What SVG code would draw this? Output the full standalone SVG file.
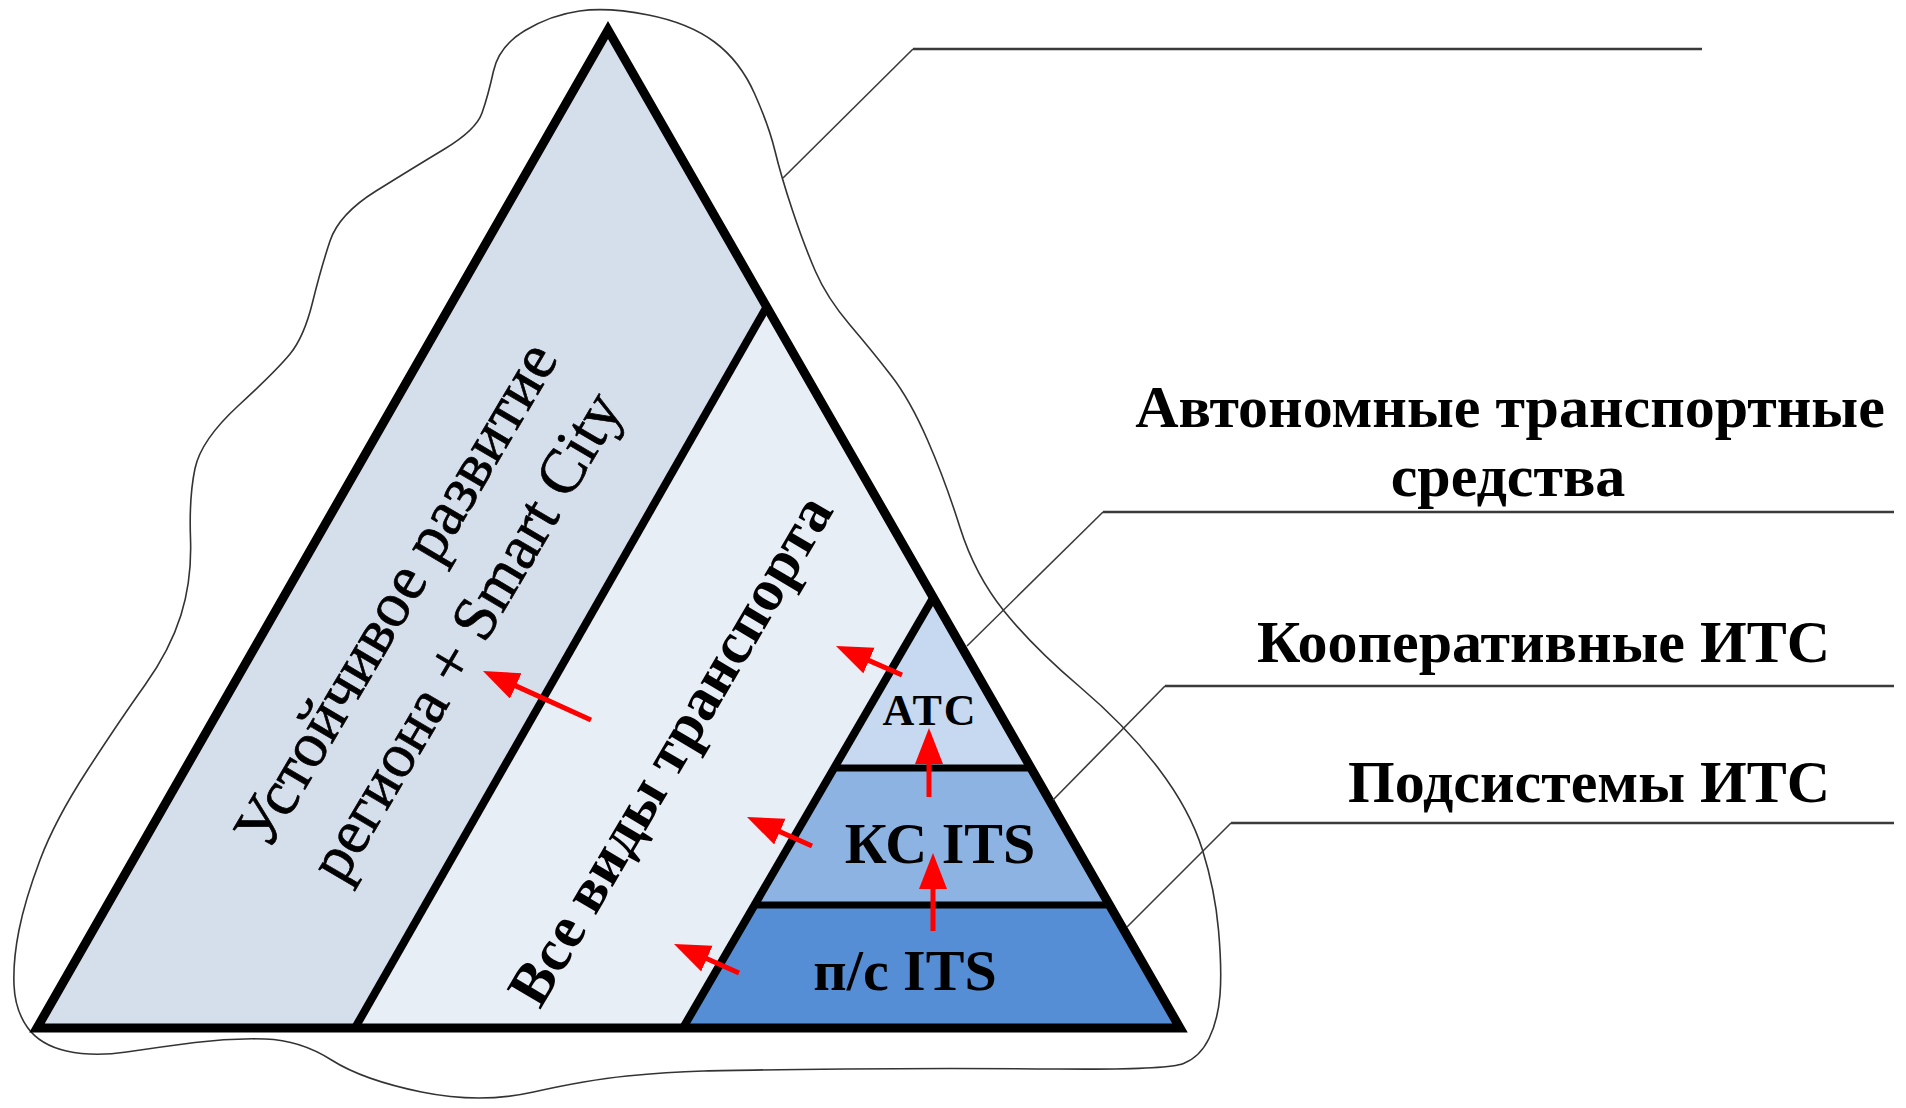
<svg xmlns="http://www.w3.org/2000/svg" width="1906" height="1108" viewBox="0 0 1906 1108">
<style>
.edge{fill:none;stroke:#000;stroke-width:9;stroke-linejoin:miter;stroke-linecap:square}
.div{fill:none;stroke:#000;stroke-width:8;stroke-linecap:butt}
.hline{fill:none;stroke:#000;stroke-width:7}
.leader{fill:none;stroke:#3a3a3a;stroke-width:1.6}
.leaderh{fill:none;stroke:#3a3a3a;stroke-width:2.4}
.cloud{fill:#fff;stroke:#333;stroke-width:1.6}
.arrow{fill:none;stroke:#ff0000;stroke-width:5;marker-end:url(#ah)}
.lbl{font-family:"Liberation Serif","Times New Roman",serif;font-weight:bold;fill:#000}
.rot{font-family:"Liberation Serif","Times New Roman",serif;fill:#000;stroke:#000;stroke-width:0.7}
</style>
<defs>
<marker id="ah" markerUnits="userSpaceOnUse" markerWidth="40" markerHeight="30" refX="6" refY="14" orient="auto" viewBox="0 0 40 30">
<path d="M0,0 L36,14 L0,28 Z" fill="#ff0000"/>
</marker>
</defs>
<rect width="1906" height="1108" fill="#fff"/>
<g id="cloud">
<path class="cloud" d="M579.5,11 Q608,7 648.5,15 Q689,23 714.5,42 Q740,61 754.5,93.5 Q769,126 775,151 Q781,176 792.5,210.5 Q804,245 815.5,271.5 Q827,298 850,325 Q873,352 891.5,376 Q910,400 927.5,440 Q945,480 960,527.5 Q975,575 1004,611 Q1033,647 1080,687 Q1127,727 1158.5,768.5 Q1190,810 1202.5,850 Q1215,890 1218.5,930 Q1222,970 1220,995 Q1218,1020 1209,1038.5 Q1200,1057 1183.5,1063.5 Q1167,1070 1058.5,1069 Q950,1068 845,1069 Q740,1070 703.5,1071 Q667,1072 627,1076 Q587,1080 533.5,1092 Q480,1104 421.5,1092 Q363,1080 331.5,1060 Q300,1040 265,1039 Q230,1038 195,1042.5 Q160,1047 126.5,1052 Q93,1057 66.5,1051 Q40,1045 27.5,1027.5 Q15,1010 14,985 Q13,960 19,930 Q25,900 40,860 Q55,820 87.5,770 Q120,720 145,685 Q170,650 181,615 Q192,580 190.5,538.5 Q189,497 195,468.5 Q201,440 238.5,405.5 Q276,371 290,354 Q304,337 312.5,302.5 Q321,268 330,241 Q339,214 376,191 Q413,168 444.5,149 Q476,130 482,113 Q488,96 493.5,71 Q499,46 525,30.5 Q551,15 579.5,11 Z"/>
</g>
<g id="band-region">
<polygon points="608,30 766.6,307 355,1028 37,1028" fill="#d5dfeb"/>
</g>
<g id="band-transport">
<polygon points="766.6,307 933,598 683,1028 355,1028" fill="#e8eef6"/>
</g>
<g id="level-atc">
<polygon points="933,598 1030.6,768 834,768" fill="#c6d9f0"/>
</g>
<g id="level-kc">
<polygon points="834,768 1030.6,768 1109,905 754.5,905" fill="#8db3e2"/>
</g>
<g id="level-ps">
<polygon points="754.5,905 1109,905 1180,1028 683,1028" fill="#558ed5"/>
</g>
<g id="lines">
<line class="div" x1="766.6" y1="307" x2="355" y2="1028"/>
<line class="div" x1="933" y1="598" x2="683" y2="1028"/>
<line class="hline" x1="834" y1="768" x2="1030.6" y2="768"/>
<line class="hline" x1="754.5" y1="905" x2="1109" y2="905"/>
<polygon class="edge" points="608,30 1180,1028 37,1028"/>
</g>
<g id="connectors">
<polyline class="leader" points="783,178 913,49"/>
<line class="leaderh" x1="913" y1="49" x2="1702" y2="49"/>
<polyline class="leader" points="967,646 1103,512"/>
<line class="leaderh" x1="1103" y1="512" x2="1894" y2="512"/>
<polyline class="leader" points="1053,800 1165,686"/>
<line class="leaderh" x1="1165" y1="686" x2="1894" y2="686"/>
<polyline class="leader" points="1127,927 1231,823"/>
<line class="leaderh" x1="1231" y1="823" x2="1894" y2="823"/>
<line class="arrow" x1="591" y1="720" x2="510.3" y2="683.4"/>
<line class="arrow" x1="902" y1="675" x2="863.5" y2="658.1"/>
<line class="arrow" x1="812" y1="846" x2="774.4" y2="829.2"/>
<line class="arrow" x1="739" y1="973" x2="701.4" y2="956.2"/>
<line class="arrow" x1="929" y1="797" x2="929" y2="758"/>
<line class="arrow" x1="933" y1="931" x2="933" y2="883"/>
</g>
<g id="text-region">
<g transform="translate(430,615) rotate(-59.5)">
<text class="rot" x="0" y="-19" font-size="64" text-anchor="middle">Устойчивое развитие</text>
<text class="rot" x="0" y="62" font-size="63" text-anchor="middle">региона + Smart City</text>
</g>
</g>
<g id="text-transport">
<text class="lbl" transform="translate(670,750) rotate(-59.5)" x="0" y="20" font-size="60" text-anchor="middle">Все виды транспорта</text>
</g>
<g id="text-levels">
<text class="lbl" x="930" y="725" font-size="44" text-anchor="middle" letter-spacing="2">АТС</text>
<text class="lbl" x="940" y="863" font-size="58" text-anchor="middle">КС ITS</text>
<text class="lbl" x="905" y="990" font-size="58" text-anchor="middle">п/с ITS</text>
</g>
<g id="labels">
<text class="lbl" x="1510" y="427" font-size="60" text-anchor="middle">Автономные транспортные</text>
<text class="lbl" x="1508" y="496" font-size="60" text-anchor="middle">средства</text>
<text class="lbl" x="1830" y="662" font-size="60" text-anchor="end">Кооперативные ИТС</text>
<text class="lbl" x="1830" y="802" font-size="60" text-anchor="end">Подсистемы ИТС</text>
</g>
</svg>
